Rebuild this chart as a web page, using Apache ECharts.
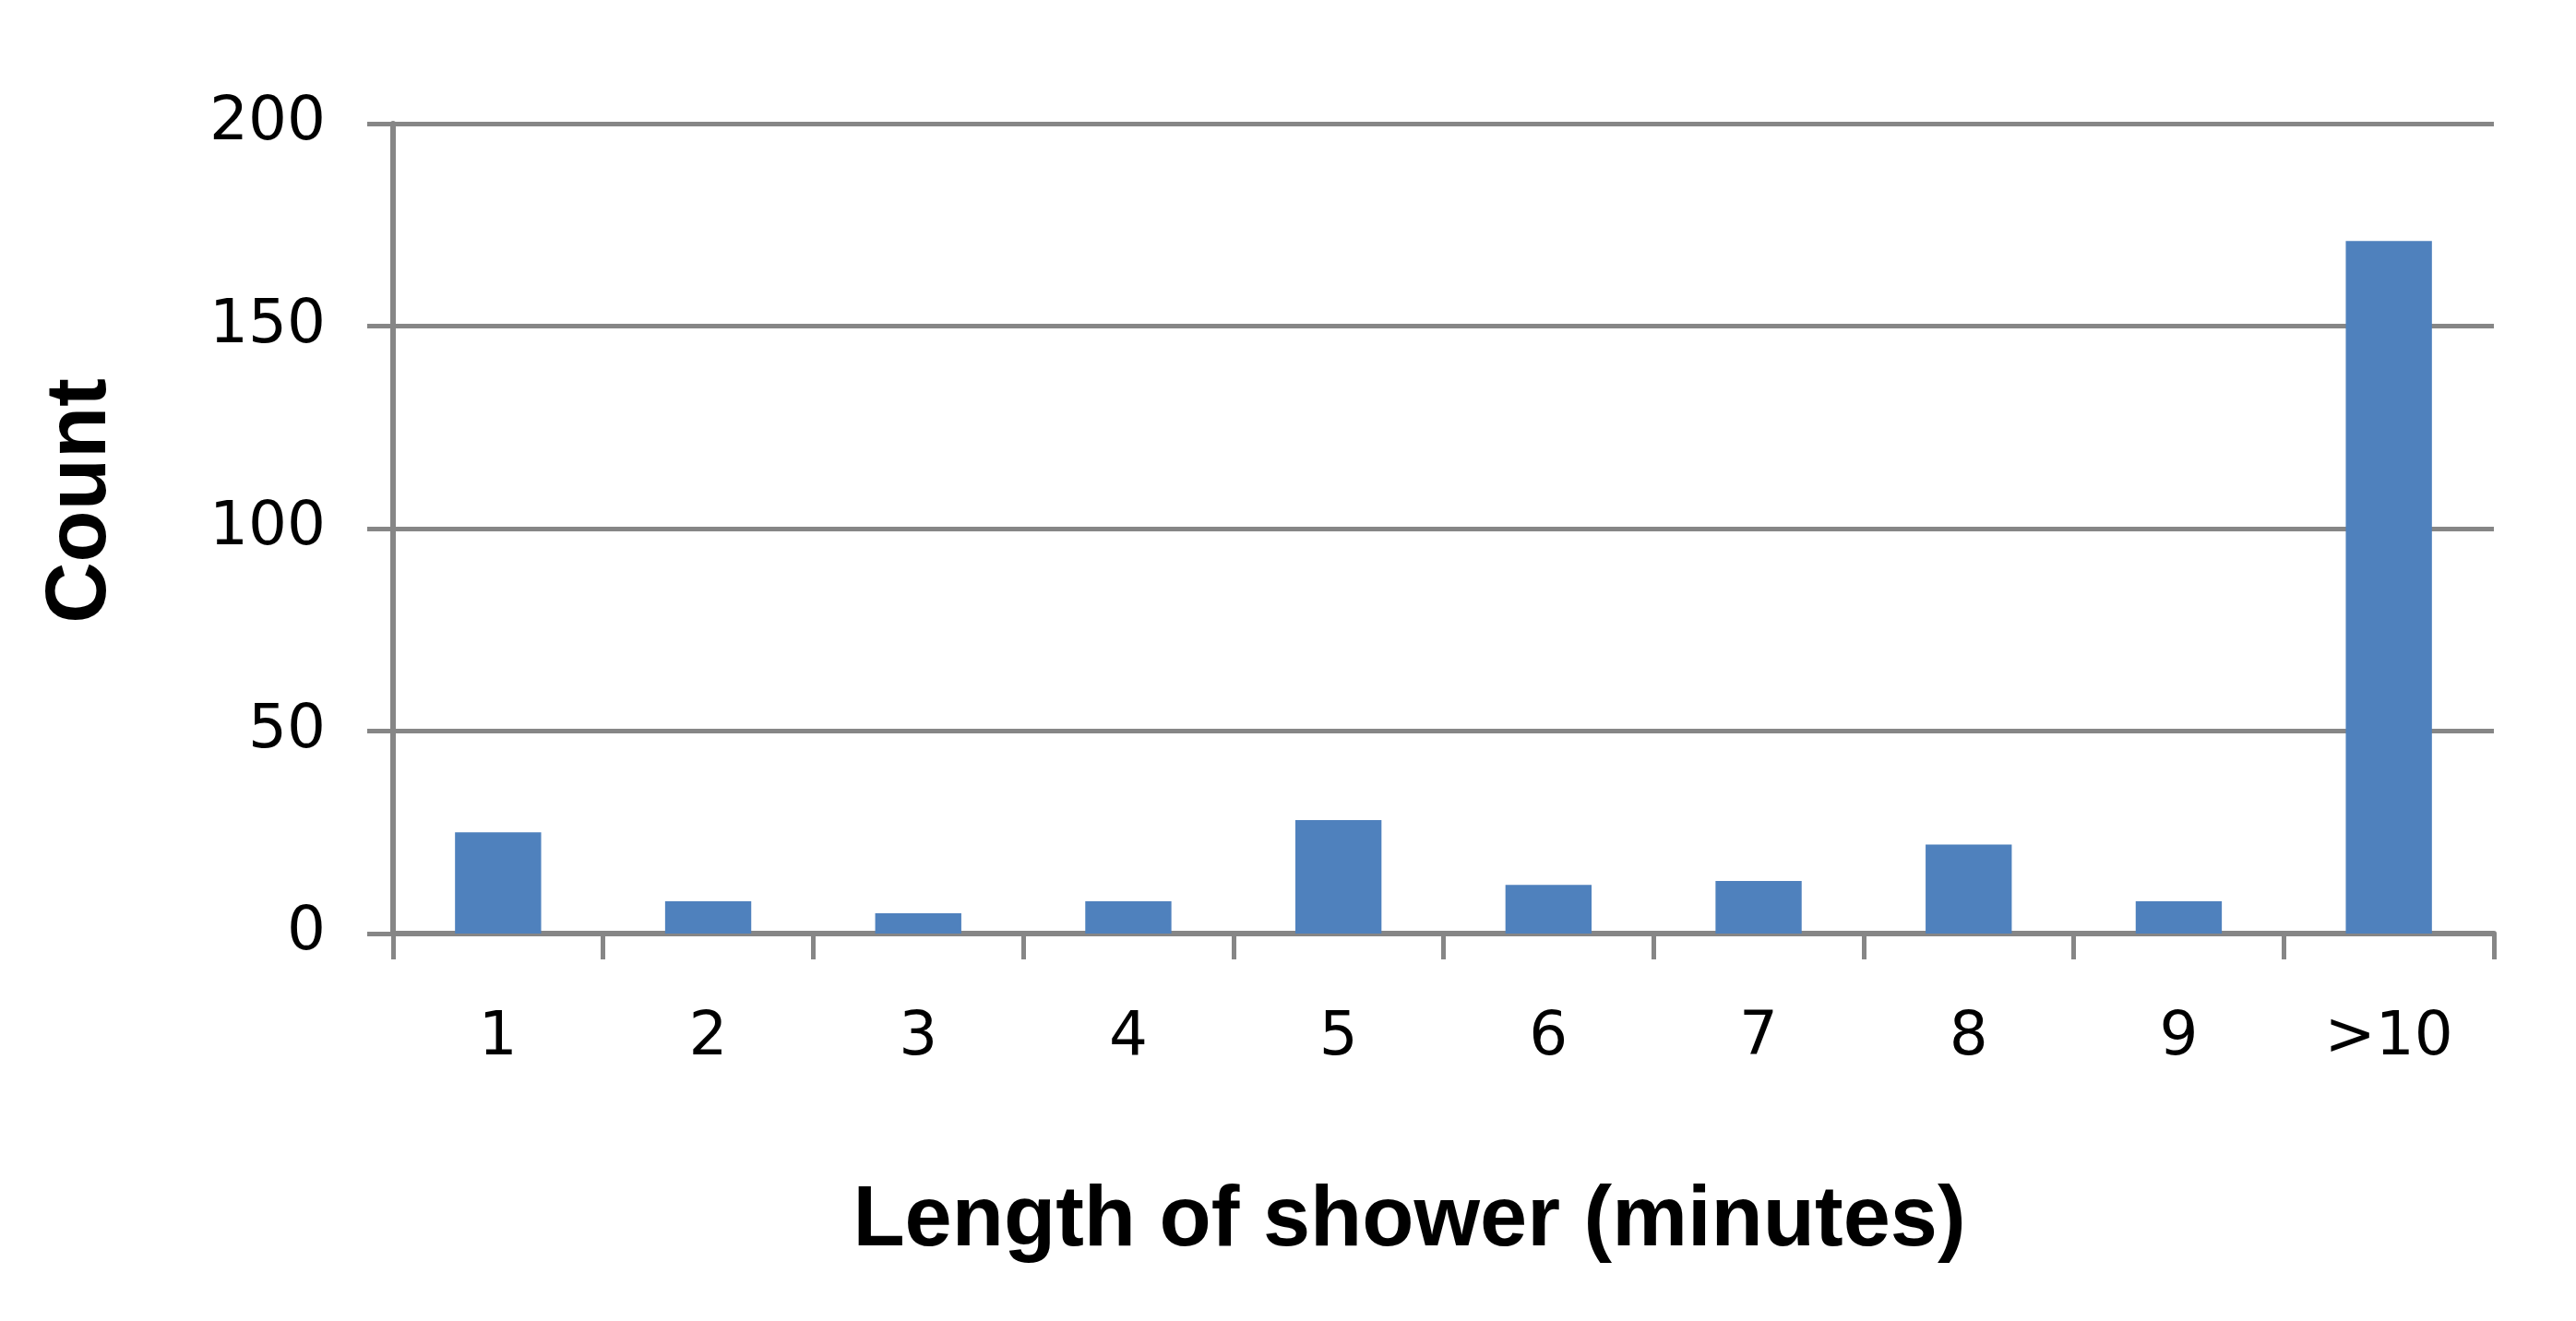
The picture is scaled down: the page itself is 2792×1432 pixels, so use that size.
<!DOCTYPE html>
<html>
<head>
<meta charset="utf-8">
<title>Length of shower</title>
<script src="https://cdn.jsdelivr.net/npm/echarts@6/dist/echarts.min.js"></script>
<style>
	html, body { margin: 0; padding: 0; background: #fff; }
	#chart { width: 2792px; height: 1432px; }
</style>
</head>
<body>
<div id="chart"></div>
<script>
// 数据
var categories = ['1', '2', '3', '4', '5', '6', '7', '8', '9', '>10'];
var counts = [25, 8, 5, 8, 28, 12, 13, 22, 8, 171];
var yMin = 0;
var yMax = 200;
var yStep = 50;

var axisGray = '#868686';

var myChart = echarts.init(document.getElementById('chart'));

myChart.setOption({
	animation: false,
	backgroundColor: '#ffffff',
	grid: {
		left: 426,
		right: 89,
		top: 134,
		bottom: 420,
		containLabel: false,
		outerBoundsMode: 'none'
	},
	xAxis: {
		type: 'category',
		data: categories,
		boundaryGap: true,
		name: 'Length of shower (minutes)',
		nameLocation: 'middle',
		nameGap: 267,
		nameTextStyle: {
			fontFamily: 'Liberation Sans',
			fontWeight: 'bold',
			fontSize: 92,
			color: '#000',
			padding: [0, 74, 0, 0]
		},
		axisLine: { show: true, lineStyle: { color: axisGray, width: 6 } },
		axisTick: { show: true, alignWithLabel: false, length: 28, lineStyle: { color: axisGray, width: 5 } },
		axisLabel: {
			interval: 0,
			margin: 81,
			fontFamily: 'DejaVu Sans',
			fontSize: 66,
			color: '#000'
		},
		splitLine: { show: false }
	},
	yAxis: {
		type: 'value',
		min: yMin,
		max: yMax,
		interval: yStep,
		name: 'Count',
		nameLocation: 'middle',
		nameGap: 291,
		nameRotate: 90,
		nameTextStyle: {
			fontFamily: 'Liberation Sans',
			fontWeight: 'bold',
			fontSize: 92,
			color: '#000',
			padding: [0, 0, 0, 60]
		},
		axisLine: { show: true, lineStyle: { color: axisGray, width: 6 } },
		axisTick: { show: true, length: 28, lineStyle: { color: axisGray, width: 5 } },
		axisLabel: {
			margin: 73,
			fontFamily: 'DejaVu Sans',
			fontSize: 66,
			color: '#000'
		},
		splitLine: { show: true, lineStyle: { color: axisGray, width: 5 } }
	},
	series: [{
		type: 'bar',
		data: counts,
		barWidth: '41%',
		itemStyle: { color: '#4F81BD' }
	}]
});
</script>
</body>
</html>
